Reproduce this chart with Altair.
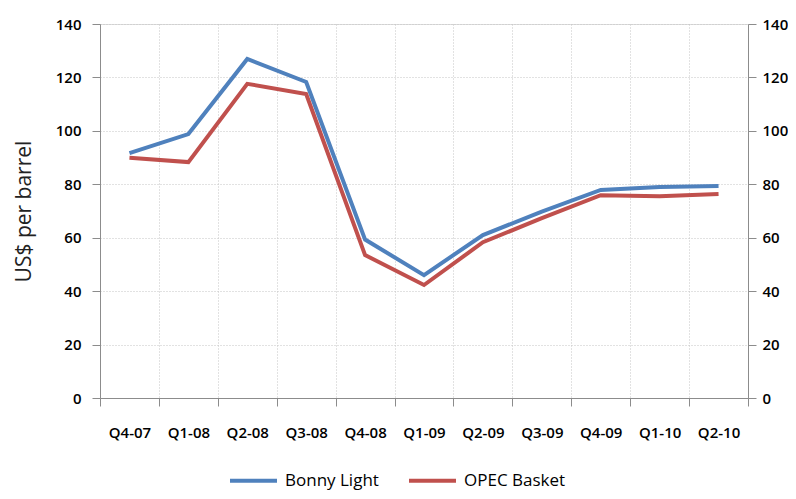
import altair as alt
import pandas as pd

quarters = ["Q4-07", "Q1-08", "Q2-08", "Q3-08", "Q4-08", "Q1-09",
            "Q2-09", "Q3-09", "Q4-09", "Q1-10", "Q2-10"]
bonny_light = [91.7, 98.8, 126.9, 118.3, 59.3, 46.0, 61.0, 69.8, 77.9, 79.0, 79.4]
opec_basket = [89.9, 88.3, 117.6, 113.8, 53.5, 42.3, 58.3, 67.3, 75.9, 75.5, 76.4]
series_names = ["Bonny Light", "OPEC Basket"]
series_colors = ["#4F81BD", "#C0504D"]

rows = []
for name, vals in zip(series_names, [bonny_light, opec_basket]):
    for q, v in zip(quarters, vals):
        rows.append({"Quarter": q, "Price": v, "Series": name})
df = pd.DataFrame(rows)

FONT = "Open Sans"
ydomain = [0, 140]
TICK_FS = 15
TICK_FW = 600

x_enc = alt.X(
    "Quarter:N", sort=quarters, title=None,
    scale=alt.Scale(paddingInner=0, paddingOuter=0),
    axis=alt.Axis(
        tickBand="extent", grid=True, gridDash=[1, 2], gridColor="#c4c4c4",
        domainColor="#8c8c8c", tickColor="#8c8c8c", tickSize=8,
        labelAngle=0, labelPadding=19, labelFont=FONT, labelFontSize=TICK_FS,
        labelFontWeight=TICK_FW, labelColor="#000000",
    ),
)

base = alt.Chart(df).encode(x=x_enc)

lines = base.mark_line(strokeWidth=4).encode(
    y=alt.Y(
        "Price:Q", scale=alt.Scale(domain=ydomain, nice=False),
        axis=alt.Axis(
            title="US$ per barrel", values=list(range(0, 141, 20)),
            grid=True, gridDash=[1, 2], gridColor="#c4c4c4",
            domainColor="#8c8c8c", tickColor="#8c8c8c", tickSize=8,
            labelFont=FONT, labelFontSize=TICK_FS, labelFontWeight=TICK_FW,
            labelColor="#000000", labelPadding=11,
            titleFont=FONT, titleFontSize=21, titleFontWeight="normal",
            titleColor="#222222", titlePadding=21,
        ),
    ),
    color=alt.Color(
        "Series:N", sort=series_names,
        scale=alt.Scale(domain=series_names, range=series_colors),
        legend=alt.Legend(
            title=None, orient="none", direction="horizontal",
            legendX=128, legendY=431,
            symbolType="stroke", symbolSize=2209, symbolStrokeWidth=4,
            labelFont=FONT, labelFontSize=17, labelColor="#000000",
            columnPadding=22, labelOffset=6,
        ),
    ),
)

right = base.mark_line(opacity=0).encode(
    y=alt.Y(
        "Price:Q", scale=alt.Scale(domain=ydomain, nice=False),
        axis=alt.Axis(
            orient="right", title=None, values=list(range(0, 141, 20)),
            grid=False, domainColor="#8c8c8c", tickColor="#8c8c8c", tickSize=8,
            labelFont=FONT, labelFontSize=TICK_FS, labelFontWeight=TICK_FW,
            labelColor="#000000", labelPadding=6,
        ),
    ),
    detail="Series:N",
)

chart = (
    alt.layer(lines, right)
    .resolve_scale(y="independent")
    .properties(
        width=648, height=374,
        autosize=alt.AutoSizeParams(type="none"),
        padding={"left": 92, "top": 16, "right": 40, "bottom": 92},
    )
    .configure_view(stroke=None)
    .configure(background="white")
)

chart.save("out.html", embed_options={"renderer": "svg", "actions": False})
